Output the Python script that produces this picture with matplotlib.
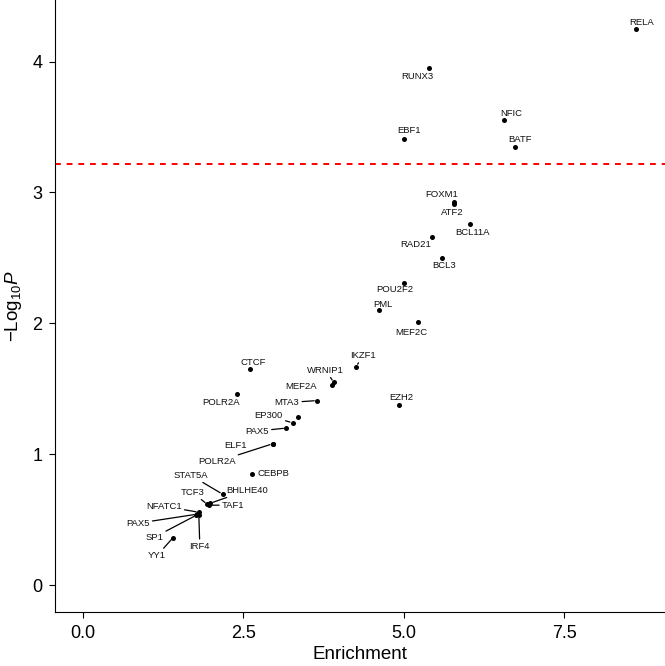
import matplotlib
matplotlib.use('Agg')
import matplotlib.pyplot as plt

plt.rcParams['font.family'] = ['Liberation Sans', 'DejaVu Sans']
plt.rcParams['mathtext.fontset'] = 'custom'
plt.rcParams['mathtext.rm'] = 'Liberation Sans'
plt.rcParams['mathtext.it'] = 'Liberation Sans:italic'

# transcription factors: enrichment vs -log10 P
names = ['RELA', 'RUNX3', 'NFIC', 'EBF1', 'BATF', 'FOXM1', 'ATF2', 'BCL11A', 'RAD21',
         'BCL3', 'POU2F2', 'PML', 'MEF2C', 'EZH2', 'IKZF1', 'WRNIP1', 'MEF2A', 'MTA3',
         'CTCF', 'POLR2A', 'EP300', 'PAX5', '', 'ELF1', 'POLR2A', 'CEBPB', 'STAT5A',
         'BHLHE40', 'TCF3', 'TAF1', 'NFATC1', 'PAX5', 'SP1', 'IRF4', 'YY1']
enrichment = [8.62, 5.39, 6.56, 5.00, 6.73, 5.78, 5.79, 6.04, 5.44,
              5.59, 5.00, 4.62, 5.23, 4.93, 4.26, 3.91, 3.88, 3.65,
              2.61, 2.41, 3.27, 3.17, 3.35, 2.96, 2.96, 2.64, 2.18,
              1.99, 1.94, 1.97, 1.81, 1.78, 1.77, 1.81, 1.41]
logp = [4.25, 3.95, 3.55, 3.41, 3.35, 2.93, 2.91, 2.76, 2.66,
        2.50, 2.31, 2.10, 2.01, 1.38, 1.67, 1.55, 1.53, 1.41,
        1.65, 1.46, 1.24, 1.20, 1.285, 1.08, 1.08, 0.85, 0.695,
        0.626, 0.618, 0.611, 0.557, 0.542, 0.534, 0.534, 0.364]
threshold = 3.22

# label placement (pixel offsets from the point) and whether a segment is drawn
label_off = [(6, 6), (-11, -8), (7, 7), (5, 8), (5, 7), (-12, 7), (-2, -8), (2, -9), (-16, -8),
             (3, -8), (-9, -7), (4, 6), (-7, -10), (2, 7), (7, 11), (-8, 12), (-31, -2), (-30, -2),
             (3, 7), (-16, -8), (-24, 7), (-29, -3), (0, 0), (-37, -2), (-56, -18), (21, 0), (-32, 19),
             (37, 13), (-15, 12), (24, 0), (-35, 6), (-59, -9), (-42, -22), (1, -31), (-16, -18)]
segment = [False] * 14 + [True, True, False, True, False, False, True, True, False, False, True,
                          False, True, True, True, True, True, True, True, True, True]

fig = plt.figure(figsize=(6.65, 6.66), dpi=100)
ax = fig.add_axes([55 / 665, 1 - 612 / 666, 1 - 55 / 665, 612 / 666])

ax.scatter(enrichment, logp, s=13, color='black', zorder=3, linewidths=0)
ax.axhline(threshold, color='red', lw=1.4, linestyle=(0, (3, 3)), zorder=2)

for n, x, y, off, seg in zip(names, enrichment, logp, label_off, segment):
    if not n:
        continue
    props = dict(arrowstyle='-', color='black', lw=0.9, shrinkA=0, shrinkB=2) if seg else None
    ax.annotate(n, (x, y), xytext=off, textcoords='offset pixels', fontsize=6.8,
                ha='center', va='center', color='#111111', arrowprops=props, zorder=4)

ax.set_xlim(-0.43, 9.07)
ax.set_ylim(-0.205, 4.47)
ax.set_xticks([0, 2.5, 5, 7.5])
ax.set_xticklabels(['0.0', '2.5', '5.0', '7.5'])
ax.set_yticks([0, 1, 2, 3, 4])
ax.spines['top'].set_visible(False)
ax.spines['right'].set_visible(False)
ax.spines['left'].set_linewidth(0.8)
ax.spines['bottom'].set_linewidth(0.8)
ax.tick_params(length=4, width=0.8, labelsize=13, colors='black', pad=5)
ax.set_xlabel('Enrichment', fontsize=13.5, labelpad=3)
ax.set_ylabel(r'$-$Log$_{10}$$\mathit{P}$', fontsize=13.5, labelpad=6)

fig.savefig('out.png', dpi=100)
